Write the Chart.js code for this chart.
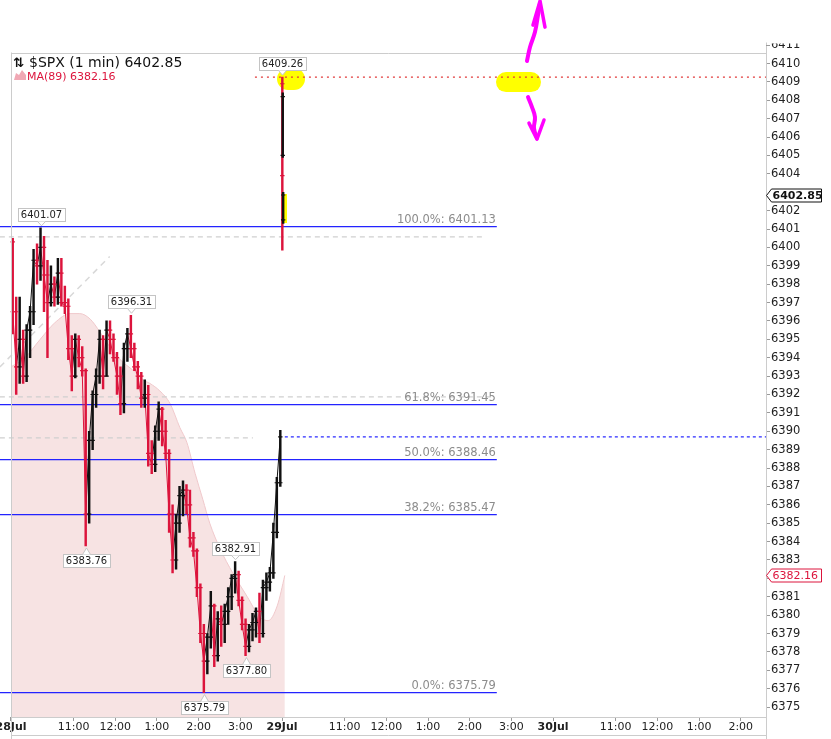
<!DOCTYPE html>
<html>
<head>
<meta charset="utf-8">
<script src="https://cdn.jsdelivr.net/npm/chart.js@4.4.1/dist/chart.umd.min.js"></script>
<style>
  html, body { margin: 0; padding: 0; background: #fff; }
  #wrap { width: 831px; height: 739px; }
</style>
</head>
<body>
<div id="wrap"><canvas id="spxChart" width="831" height="739"></canvas></div>
<script>
// 28 Jul session, one bar per five minutes from 09:30
const barMinutes = 5;
const day1Open = [
  6400.3, 6396.5, 6393.5, 6395.0, 6393.0, 6395.5, 6396.5, 6399.3, 6399.0, 6400.0,
  6398.5, 6397.0, 6398.0, 6397.3, 6398.6, 6397.0, 6396.8, 6394.5, 6393.0, 6395.0,
  6394.0, 6393.3, 6385.5, 6389.5, 6392.0, 6393.0, 6395.0, 6393.0, 6395.5, 6395.0,
  6394.0, 6393.0, 6391.5, 6394.5, 6395.3, 6394.5, 6393.5, 6393.0, 6391.8, 6392.0,
  6388.8, 6388.2, 6390.0, 6391.2, 6390.0, 6388.8, 6385.5, 6383.0, 6385.0, 6386.5,
  6386.8, 6386.0, 6384.2, 6383.5, 6381.5, 6379.0, 6377.5, 6378.8, 6380.5, 6377.8,
  6379.8, 6379.5, 6380.2, 6381.0, 6382.0, 6382.2, 6380.8, 6379.5, 6378.3, 6379.2,
  6379.6, 6380.2, 6379.0, 6381.5, 6381.8, 6382.3, 6384.5, 6387.2
];
const day1High = [
  6400.5, 6397.3, 6397.3, 6395.5, 6395.8, 6396.8, 6399.9, 6400.2, 6401.07, 6400.6,
  6399.3, 6399.0, 6398.4, 6399.4, 6399.4, 6397.9, 6397.2, 6395.2, 6395.3, 6395.2,
  6394.6, 6393.4, 6390.0, 6392.2, 6393.4, 6395.5, 6395.2, 6396.0, 6396.0, 6395.3,
  6394.3, 6393.5, 6394.8, 6395.6, 6396.31, 6394.8, 6393.8, 6393.2, 6392.8, 6392.5,
  6389.5, 6390.3, 6391.6, 6391.3, 6390.6, 6389.0, 6386.0, 6385.5, 6387.0, 6387.3,
  6387.1, 6386.8, 6384.5, 6383.6, 6381.7, 6379.5, 6379.0, 6381.3, 6380.6, 6380.2,
  6380.5, 6380.6, 6381.5, 6382.2, 6382.91, 6382.4, 6381.0, 6379.8, 6379.5, 6380.1,
  6380.4, 6381.2, 6381.9, 6382.3, 6382.6, 6385.0, 6387.5, 6390.05
];
const day1Low = [
  6395.3, 6392.0, 6392.6, 6392.6, 6392.7, 6394.0, 6395.8, 6398.0, 6398.2, 6396.5,
  6394.0, 6396.8, 6396.8, 6396.9, 6396.8, 6396.4, 6393.9, 6392.2, 6392.9, 6393.5,
  6393.0, 6383.76, 6385.0, 6389.0, 6391.3, 6392.6, 6392.3, 6393.0, 6394.2, 6393.8,
  6392.0, 6390.9, 6391.0, 6393.8, 6394.0, 6393.3, 6392.3, 6391.3, 6391.3, 6388.1,
  6387.7, 6387.8, 6389.5, 6389.2, 6388.5, 6384.5, 6382.3, 6382.5, 6384.5, 6385.4,
  6385.5, 6383.7, 6383.2, 6381.0, 6378.5, 6375.79, 6376.8, 6378.2, 6377.2, 6377.5,
  6378.3, 6378.5, 6379.5, 6380.3, 6381.2, 6380.5, 6379.2, 6377.8, 6378.0, 6378.6,
  6378.8, 6378.5, 6378.8, 6380.8, 6381.3, 6382.0, 6384.2, 6387.0
];
const day1Close = [
  6396.5, 6393.5, 6395.0, 6393.0, 6395.5, 6396.5, 6399.3, 6399.0, 6400.0, 6398.5,
  6397.0, 6398.0, 6397.3, 6398.6, 6397.0, 6396.8, 6394.5, 6393.0, 6395.0, 6394.0,
  6393.3, 6385.5, 6389.5, 6392.0, 6393.0, 6395.0, 6393.0, 6395.5, 6395.0, 6394.0,
  6393.0, 6391.5, 6394.5, 6395.3, 6394.5, 6393.5, 6393.0, 6391.8, 6392.0, 6388.8,
  6388.2, 6390.0, 6391.2, 6390.0, 6388.8, 6385.5, 6383.0, 6385.0, 6386.5, 6386.8,
  6386.0, 6384.2, 6383.5, 6381.5, 6379.0, 6377.5, 6378.8, 6380.5, 6377.8, 6379.8,
  6379.5, 6380.2, 6381.0, 6382.0, 6382.2, 6380.8, 6379.5, 6378.3, 6379.2, 6379.6,
  6380.2, 6379.0, 6381.5, 6381.8, 6382.3, 6384.5, 6387.2, 6389.7
];

// 29 Jul opening minutes
const day2Minute = [390.4, 391.0, 391.6];
const day2Open  = [6408.9, 6405.0, 6401.5];
const day2High  = [6409.26, 6408.4, 6403.0];
const day2Low   = [6399.85, 6404.9, 6401.3];
const day2Close = [6403.9, 6408.2, 6402.85];

// MA(89)
const maMinute = [0, 20, 42, 63, 85, 99, 114, 128, 142, 157, 176, 190, 200, 214,
  229, 243, 253, 265, 276, 286, 301, 319, 340, 358, 370, 383, 394];
const maValue = [6393.5, 6394.0, 6395.0, 6395.9, 6396.4, 6396.4, 6396.1, 6395.4, 6394.6,
  6393.9, 6393.3, 6392.8, 6392.6, 6392.2, 6391.5, 6390.2, 6389.4, 6387.7, 6386.3,
  6385.0, 6383.6, 6382.3, 6381.0, 6379.9, 6379.7, 6380.5, 6382.16];

// Fibonacci retracement
const fibValue = [6401.13, 6391.45, 6388.46, 6385.47, 6375.79];
const fibLabel = ['100.0%', '61.8%', '50.0%', '38.2%', '0.0%'];
const fibFrom = -16;
const fibTo = 699;

// older grey guide lines
const guideValue = [6400.57, 6391.87, 6389.64];
const guideTo = [682, 696, 348];
const trendMinute = [-16, 142];
const trendValue = [6393.5, 6399.5];

const highLineValue = 6409.26;
const highLineFrom = 351;
const closeLineValue = 6389.70;
const closeLineFrom = 394;

// price callouts
const calloutMinute = [390.4, 42.5, 172.5, 107.5, 322.5, 337.5, 277.5];
const calloutValue = [6409.26, 6401.07, 6396.31, 6383.76, 6382.91, 6377.80, 6375.79];
const calloutAbove = [true, true, true, false, true, false, false];

// hand-drawn marks
const markerMinute = [[398.6, 407.2], [712.2, 748.2]];
const markerValue = [6409.16, 6408.99];
const markerWidth = [22, 20];
const stripMinute = 393.5;
const stripValue = [6402.90, 6401.33];
const arrowUpMinute = [742.4, 746.8, 753.9, 758.3, 761.2];
const arrowUpValue = [6410.14, 6410.90, 6411.71, 6412.64, 6413.29];
const headUpMinute = [751.1, 761.2, 768.3];
const headUpValue = [6412.09, 6413.40, 6411.98];
const arrowDownMinute = [743.9, 749.6, 753.9, 752.5, 756.8];
const arrowDownValue = [6408.18, 6407.63, 6407.09, 6406.49, 6405.95];
const headDownMinute = [745.3, 756.8, 766.9];
const headDownValue = [6406.76, 6405.89, 6406.93];

const lastPrice = 6402.85;
const maLast = 6382.16;
const cutTick = 6411; // half-hidden label above the plot

const tickMinute = [0, 90, 150, 210, 270, 330, 390, 480, 540, 600, 660, 720, 780, 870, 930, 990, 1050];
const tickLabel = ['28Jul', '11:00', '12:00', '1:00', '2:00', '3:00', '29Jul', '11:00', '12:00',
  '1:00', '2:00', '3:00', '30Jul', '11:00', '12:00', '1:00', '2:00'];
const dayMinute = [0, 390, 780];

const UP = '#111111';
const DOWN = '#dc143c';
const FONT = 'DejaVu Sans';

const bars = [];
day1Open.forEach((o, i) => bars.push({
  m: i * barMinutes + barMinutes / 2, o, h: day1High[i], l: day1Low[i], c: day1Close[i]
}));
day2Minute.forEach((m, i) => bars.push({
  m, o: day2Open[i], h: day2High[i], l: day2Low[i], c: day2Close[i]
}));
const barColor = bars.map(b => b.c >= b.o ? UP : DOWN);

const tickPoints = [];
const tickColors = [];
bars.forEach((b, i) => {
  tickPoints.push({x: b.m, y: b.o}, {x: b.m, y: b.c});
  tickColors.push(barColor[i], barColor[i]);
});
const day1Path = day1Close.map((c, i) => ({x: i * barMinutes + barMinutes / 2, y: c}));

function levels(values, from, to) {
  const pts = [];
  values.forEach((v, i) => {
    const a = Array.isArray(from) ? from[i] : from;
    const b = Array.isArray(to) ? to[i] : to;
    pts.push({x: a, y: v}, {x: b, y: v}, {x: b, y: null});
  });
  return pts;
}
const pairs = (xs, ys) => xs.map((x, i) => ({x, y: ys[i]}));

const plain = {pointRadius: 0, fill: false, spanGaps: false};

const decor = {
  id: 'decor',
  beforeDatasetsDraw(chart) {
    const {ctx, chartArea: a, scales: {x}} = chart;
    const left = Math.round(x.getPixelForValue(0)) + 0.5;
    ctx.save();
    ctx.strokeStyle = '#cccccc';
    ctx.lineWidth = 1;
    ctx.beginPath();
    ctx.moveTo(left, Math.round(a.top) + 0.5);
    ctx.lineTo(a.right, Math.round(a.top) + 0.5);
    ctx.stroke();
    ctx.restore();
  },
  afterDatasetsDraw(chart) {
    const {ctx, chartArea: a, scales: {x}} = chart;
    const left = Math.round(x.getPixelForValue(0)) + 0.5;
    const H = chart.height;
    ctx.save();
    ctx.strokeStyle = '#cccccc';
    ctx.lineWidth = 1;
    ctx.beginPath();
    ctx.moveTo(left, a.top); ctx.lineTo(left, H);
    ctx.moveTo(left, Math.round(a.bottom) + 0.5); ctx.lineTo(a.right, Math.round(a.bottom) + 0.5);
    ctx.moveTo(left, H - 3.5); ctx.lineTo(a.right, H - 3.5);
    ctx.moveTo(Math.round(a.right) + 0.5, a.top - 10); ctx.lineTo(Math.round(a.right) + 0.5, H);
    ctx.stroke();
    ctx.restore();
  },
  afterDraw(chart) {
    const {ctx, chartArea: a, scales: {x, y}} = chart;
    ctx.save();

    // label above the plot, cut by the panel edge
    ctx.save();
    ctx.beginPath();
    ctx.rect(a.right, a.top - 9, 60, 20);
    ctx.clip();
    ctx.font = `11.5px "${FONT}"`;
    ctx.fillStyle = '#222222';
    ctx.textBaseline = 'middle';
    const cy = y.getPixelForValue(cutTick);
    ctx.fillText(String(cutTick), a.right + 5, cy);
    ctx.strokeStyle = '#9a9a9a';
    ctx.beginPath();
    ctx.moveTo(a.right, Math.round(cy) + 0.5); ctx.lineTo(a.right + 4, Math.round(cy) + 0.5);
    ctx.stroke();
    ctx.restore();

    // fib labels
    ctx.font = `11.5px "${FONT}"`;
    ctx.fillStyle = '#8c8c8c';
    ctx.textAlign = 'right';
    ctx.textBaseline = 'alphabetic';
    fibValue.forEach((v, i) => {
      ctx.fillText(`${fibLabel[i]}: ${v.toFixed(2)}`, x.getPixelForValue(fibTo) - 1, y.getPixelForValue(v) - 4);
    });

    // callouts
    ctx.font = `10px "${FONT}"`;
    ctx.textAlign = 'center';
    ctx.textBaseline = 'middle';
    calloutMinute.forEach((m, i) => {
      const txt = calloutValue[i].toFixed(2);
      const px = Math.round(x.getPixelForValue(m)) + 0.5;
      const py = y.getPixelForValue(calloutValue[i]);
      const w = Math.ceil(ctx.measureText(txt).width) + 5;
      const h = 13;
      const bx = Math.round(px - w / 2) + 0.5;
      let by, tip, base;
      if (calloutAbove[i]) {
        base = Math.round(py - 7) + 0.5; by = base - h; tip = py - 2;
      } else {
        base = Math.round(py + 8) + 0.5; by = base; tip = py + 2;
      }
      ctx.fillStyle = '#ffffff';
      ctx.strokeStyle = '#c4c4c4';
      ctx.lineWidth = 1;
      ctx.fillRect(bx, by, w, h);
      ctx.strokeRect(bx, by, w, h);
      ctx.beginPath();
      ctx.moveTo(px - 4, base);
      ctx.lineTo(px, tip);
      ctx.lineTo(px + 4, base);
      ctx.fill();
      ctx.stroke();
      ctx.fillStyle = '#222222';
      ctx.fillText(txt, px, by + h / 2 + 0.5);
    });

    // legend
    ctx.textAlign = 'left';
    ctx.textBaseline = 'alphabetic';
    ctx.fillStyle = '#111111';
    ctx.font = `bold 13px "${FONT}"`;
    ctx.fillText('⇅', 13, 67);
    ctx.font = `14px "${FONT}"`;
    ctx.fillText(`$SPX (1 min) ${lastPrice.toFixed(2)}`, 29, 67);
    ctx.fillStyle = '#f0a8b4';
    ctx.beginPath();
    ctx.moveTo(14, 80); ctx.lineTo(16, 73); ctx.lineTo(19, 75); ctx.lineTo(22, 70);
    ctx.lineTo(26, 75); ctx.lineTo(26, 80); ctx.closePath();
    ctx.fill();
    ctx.fillStyle = DOWN;
    ctx.font = `11px "${FONT}"`;
    ctx.fillText(`MA(89) ${maLast.toFixed(2)}`, 27, 80);

    // axis value boxes
    const box = (v, stroke, color, weight) => {
      const py = Math.round(y.getPixelForValue(v)) + 0.5;
      const x0 = Math.round(a.right) + 0.5;
      ctx.beginPath();
      ctx.moveTo(x0, py);
      ctx.lineTo(x0 + 5, py - 6.5);
      ctx.lineTo(x0 + 55, py - 6.5);
      ctx.lineTo(x0 + 55, py + 6.5);
      ctx.lineTo(x0 + 5, py + 6.5);
      ctx.closePath();
      ctx.fillStyle = '#ffffff';
      ctx.fill();
      ctx.strokeStyle = stroke;
      ctx.lineWidth = 1;
      ctx.stroke();
      ctx.fillStyle = color;
      ctx.font = `${weight} 11px "${FONT}"`;
      ctx.textBaseline = 'middle';
      ctx.fillText(v.toFixed(2), x0 + 6, py + 0.5);
    };
    box(lastPrice, '#111111', '#111111', 'bold');
    box(maLast, DOWN, DOWN, 'normal');
    ctx.restore();
  }
};

new Chart(document.getElementById('spxChart'), {
  type: 'line',
  data: {
    datasets: [
      { ...plain, data: pairs(markerMinute[0], [markerValue[0], markerValue[0]]),
        borderColor: '#ffff00', borderWidth: markerWidth[0], borderCapStyle: 'round', order: 30 },
      { ...plain, data: pairs(markerMinute[1], [markerValue[1], markerValue[1]]),
        borderColor: '#ffff00', borderWidth: markerWidth[1], borderCapStyle: 'round', order: 30 },
      { ...plain, data: pairs([stripMinute, stripMinute], stripValue),
        borderColor: '#ffff00', borderWidth: 5, order: 30 },
      { ...plain, data: pairs(maMinute, maValue), fill: 'start', tension: 0.4,
        cubicInterpolationMode: 'monotone',
        backgroundColor: '#f7e3e3', borderColor: '#f0c9cc', borderWidth: 1, order: 25 },
      { ...plain, data: levels(guideValue, fibFrom, guideTo),
        borderColor: '#cfcfcf', borderWidth: 1.2, borderDash: [5, 4], order: 20 },
      { ...plain, data: pairs(trendMinute, trendValue),
        borderColor: '#d8d8d8', borderWidth: 1.5, borderDash: [6, 5], order: 20 },
      { ...plain, data: levels(fibValue, fibFrom, fibTo),
        borderColor: '#2323ff', borderWidth: 1.3, order: 18 },
      { ...plain, data: levels([highLineValue], highLineFrom, 1100),
        borderColor: '#e23a3a', borderWidth: 1.2, borderDash: [2, 4], order: 17 },
      { ...plain, data: levels([closeLineValue], closeLineFrom, 1100),
        borderColor: '#2b2bff', borderWidth: 1.2, borderDash: [3, 3], order: 17 },
      { ...plain, data: day1Path, borderWidth: 1, order: 6,
        segment: { borderColor: (s) => s.p1.parsed.y >= s.p0.parsed.y ? UP : DOWN } },
      { type: 'bar', data: bars.map(b => ({x: b.m, y: [b.l, b.h]})),
        backgroundColor: barColor, borderWidth: 0, barThickness: 1.8, grouped: false, order: 5 },
      { data: tickPoints, showLine: false, pointStyle: 'line', pointRadius: 2.2,
        pointBorderWidth: 1.2, pointBorderColor: tickColors, pointBackgroundColor: tickColors, order: 4 },
      { ...plain, data: pairs(arrowUpMinute, arrowUpValue), tension: 0.4, clip: false,
        borderColor: '#ff00ff', borderWidth: 4, borderCapStyle: 'round', borderJoinStyle: 'round', order: 1 },
      { ...plain, data: pairs(headUpMinute, headUpValue), clip: false,
        borderColor: '#ff00ff', borderWidth: 3.5, borderCapStyle: 'round', borderJoinStyle: 'round', order: 1 },
      { ...plain, data: pairs(arrowDownMinute, arrowDownValue), tension: 0.4, clip: false,
        borderColor: '#ff00ff', borderWidth: 4, borderCapStyle: 'round', borderJoinStyle: 'round', order: 1 },
      { ...plain, data: pairs(headDownMinute, headDownValue), clip: false,
        borderColor: '#ff00ff', borderWidth: 3.5, borderCapStyle: 'round', borderJoinStyle: 'round', order: 1 }
    ]
  },
  options: {
    responsive: false,
    animation: false,
    events: [],
    layout: { autoPadding: false, padding: { top: 52.5, left: 0, right: 0, bottom: 0 } },
    plugins: { legend: { display: false }, tooltip: { enabled: false } },
    scales: {
      x: {
        type: 'linear',
        offset: false,
        min: -15.8,
        max: 1086.3,
        afterBuildTicks: (scale) => { scale.ticks = tickMinute.map(v => ({value: v})); },
        afterFit: (scale) => { scale.height = 22; scale.paddingLeft = 0; scale.paddingRight = 0; },
        grid: { offset: false, drawOnChartArea: false, tickLength: 4, color: '#9a9a9a' },
        border: { display: false },
        ticks: {
          autoSkip: false,
          maxRotation: 0,
          padding: 0,
          color: '#222222',
          font: (c) => ({
            family: FONT, size: 11,
            weight: c.tick && dayMinute.includes(c.tick.value) ? 'bold' : 'normal'
          }),
          callback: (v) => tickLabel[tickMinute.indexOf(v)]
        }
      },
      y: {
        position: 'right',
        min: 6374.46,
        max: 6410.6,
        afterBuildTicks: (scale) => {
          const out = [];
          for (let v = Math.ceil(scale.min); v <= Math.floor(scale.max); v++) {
            if (Math.abs(v - lastPrice) > 0.5) out.push({value: v});
          }
          scale.ticks = out;
        },
        afterFit: (scale) => { scale.width = 65; scale.paddingTop = 0; scale.paddingBottom = 0; },
        grid: { drawOnChartArea: false, tickLength: 4, color: '#9a9a9a' },
        border: { display: false },
        ticks: {
          autoSkip: false,
          padding: 1,
          color: '#222222',
          font: { family: FONT, size: 11.5 },
          callback: (v) => String(v)
        }
      }
    }
  },
  plugins: [decor]
});
</script>
</body>
</html>
